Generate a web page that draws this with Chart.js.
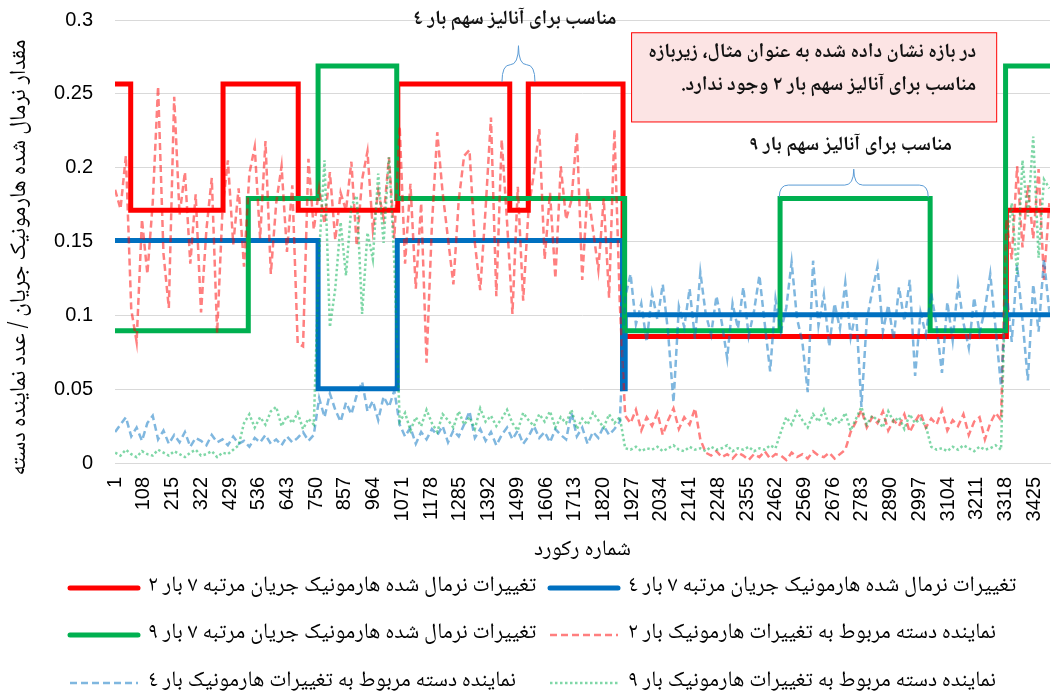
<!DOCTYPE html>
<html lang="fa">
<head>
<meta charset="utf-8">
<title>تغییرات هارمونیک</title>
<script src="https://cdn.jsdelivr.net/npm/chart.js@4.4.1/dist/chart.umd.min.js"></script>
<style>
    html, body { margin: 0; padding: 0; background: #fff; }
    #wrap { width: 1051px; height: 694px; position: relative; }
</style>
</head>
<body>
<div id="wrap"><canvas id="harmonicChart"></canvas></div>
<script>
// tick labels of the record axis
var xTickRecords = [1, 108, 215, 322, 429, 536, 643, 750, 857, 964, 1071, 1178, 1285, 1392, 1499, 1606, 1713,
    1820, 1927, 2034, 2141, 2248, 2355, 2462, 2569, 2676, 2783, 2890, 2997, 3104, 3211, 3318, 3425];
var lastRecord = 3483;

// step series: record where a level starts, and the level
var redStepRecords = [1, 59, 403, 683, 1054, 1471, 1540, 1893, 3321, 3483];
var redStepValues = [0.2567, 0.1711, 0.2567, 0.1711, 0.2567, 0.1711, 0.2567, 0.0856, 0.1711, 0.1711];
var blueStepRecords = [1, 757, 1052, 1891, 1901, 3483];
var blueStepValues = [0.1506, 0.0502, 0.1506, 0.0502, 0.1004, 0.1004];
var greenStepRecords = [1, 497, 757, 1050, 1899, 2478, 3037, 3318, 3483];
var greenStepValues = [0.0896, 0.1792, 0.2688, 0.1792, 0.0896, 0.1792, 0.0896, 0.2688, 0.2688];

// cluster representatives, read every 20 records
var sampleEvery = 20;
var redCluster = [
    0.185, 0.172, 0.208, 0.104, 0.082, 0.165, 0.128, 0.176, 0.255, 0.142,
    0.105, 0.248, 0.168, 0.197, 0.135, 0.182, 0.102, 0.158, 0.193, 0.088,
    0.172, 0.205, 0.148, 0.186, 0.133, 0.196, 0.214, 0.152, 0.218, 0.128,
    0.176, 0.201, 0.143, 0.188, 0.081, 0.079, 0.206, 0.158, 0.186, 0.162,
    0.197, 0.151, 0.183, 0.171, 0.204, 0.147, 0.192, 0.211, 0.158, 0.184,
    0.166, 0.207, 0.152, 0.228, 0.135, 0.189, 0.118, 0.176, 0.068, 0.161,
    0.224, 0.183, 0.152, 0.121, 0.178, 0.208, 0.212, 0.149, 0.117, 0.172,
    0.234, 0.113, 0.219, 0.163, 0.101, 0.187, 0.110, 0.172, 0.196, 0.226,
    0.138, 0.183, 0.125, 0.201, 0.165, 0.178, 0.224, 0.124, 0.186, 0.158,
    0.131, 0.179, 0.112, 0.226, 0.108, 0.032, 0.027, 0.036, 0.022, 0.031,
    0.025, 0.034, 0.019, 0.029, 0.037, 0.023, 0.031, 0.026, 0.037, 0.016,
    0.007, 0.005, 0.008, 0.004, 0.006, 0.003, 0.007, 0.005, 0.002, 0.006,
    0.004, 0.008, 0.003, 0.006, 0.005, 0.002, 0.007, 0.004, 0.006, 0.003,
    0.008, 0.005, 0.004, 0.007, 0.003, 0.006, 0.009, 0.021, 0.028, 0.036,
    0.024, 0.031, 0.027, 0.035, 0.022, 0.029, 0.025, 0.033, 0.021, 0.028,
    0.034, 0.024, 0.030, 0.026, 0.036, 0.022, 0.029, 0.025, 0.033, 0.019,
    0.028, 0.031, 0.016, 0.027, 0.034, 0.029, 0.165, 0.138, 0.201, 0.146,
    0.188, 0.152, 0.199, 0.124, 0.176
];
var blueCluster = [
    0.021, 0.026, 0.031, 0.018, 0.024, 0.015, 0.027, 0.032, 0.016, 0.022,
    0.013, 0.019, 0.014, 0.021, 0.011, 0.017, 0.015, 0.012, 0.019, 0.014,
    0.016, 0.012, 0.018, 0.013, 0.015, 0.011, 0.017, 0.014, 0.019, 0.013,
    0.016, 0.012, 0.018, 0.014, 0.017, 0.021, 0.015, 0.019, 0.044, 0.031,
    0.047, 0.036, 0.028, 0.041, 0.033, 0.046, 0.055, 0.035, 0.042, 0.029,
    0.045, 0.038, 0.049, 0.026, 0.018, 0.024, 0.013, 0.021, 0.016, 0.023,
    0.019, 0.025, 0.014, 0.022, 0.018, 0.026, 0.035, 0.017, 0.023, 0.015,
    0.021, 0.012, 0.019, 0.024, 0.016, 0.022, 0.013, 0.018, 0.025, 0.017,
    0.021, 0.014, 0.023, 0.019, 0.016, 0.034, 0.018, 0.024, 0.013, 0.021,
    0.017, 0.025, 0.019, 0.023, 0.028, 0.112, 0.128, 0.094, 0.108, 0.082,
    0.115, 0.097, 0.121, 0.088, 0.041, 0.106, 0.092, 0.118, 0.084, 0.129,
    0.101, 0.087, 0.113, 0.095, 0.071, 0.108, 0.091, 0.119, 0.086, 0.103,
    0.127, 0.094, 0.062, 0.111, 0.089, 0.105, 0.136, 0.098, 0.082, 0.048,
    0.137, 0.093, 0.114, 0.079, 0.108, 0.091, 0.122, 0.085, 0.103, 0.038,
    0.097, 0.116, 0.133, 0.089, 0.107, 0.084, 0.119, 0.096, 0.124, 0.059,
    0.102, 0.087, 0.115, 0.093, 0.061, 0.109, 0.083, 0.121, 0.095, 0.078,
    0.112, 0.088, 0.104, 0.128, 0.091, 0.052, 0.118, 0.082, 0.134, 0.097,
    0.056, 0.121, 0.089, 0.138, 0.102
];
var greenCluster = [
    0.007, 0.005, 0.009, 0.006, 0.004, 0.008, 0.006, 0.005, 0.009, 0.007,
    0.005, 0.008, 0.006, 0.004, 0.007, 0.009, 0.005, 0.006, 0.008, 0.004,
    0.007, 0.006, 0.009, 0.012, 0.027, 0.033, 0.024, 0.031, 0.026, 0.035,
    0.038, 0.025, 0.032, 0.027, 0.034, 0.023, 0.030, 0.026, 0.142, 0.205,
    0.092, 0.118, 0.163, 0.127, 0.174, 0.181, 0.101, 0.156, 0.138, 0.196,
    0.149, 0.207, 0.136, 0.028, 0.034, 0.022, 0.031, 0.025, 0.036, 0.027,
    0.021, 0.033, 0.029, 0.024, 0.035, 0.026, 0.031, 0.023, 0.037, 0.028,
    0.032, 0.025, 0.030, 0.036, 0.027, 0.022, 0.034, 0.029, 0.025, 0.033,
    0.028, 0.035, 0.024, 0.031, 0.027, 0.036, 0.023, 0.030, 0.026, 0.034,
    0.029, 0.024, 0.033, 0.027, 0.031, 0.010, 0.009, 0.011, 0.008, 0.010,
    0.009, 0.011, 0.008, 0.010, 0.012, 0.009, 0.008, 0.011, 0.009, 0.010,
    0.008, 0.011, 0.009, 0.010, 0.012, 0.008, 0.010, 0.009, 0.011, 0.008,
    0.010, 0.009, 0.012, 0.010, 0.021, 0.031, 0.026, 0.035, 0.029, 0.024,
    0.033, 0.028, 0.036, 0.025, 0.031, 0.027, 0.034, 0.022, 0.030, 0.038,
    0.026, 0.032, 0.029, 0.024, 0.035, 0.028, 0.031, 0.023, 0.033, 0.027,
    0.030, 0.025, 0.011, 0.009, 0.010, 0.008, 0.011, 0.009, 0.012, 0.010,
    0.008, 0.011, 0.009, 0.010, 0.012, 0.009, 0.148, 0.176, 0.128, 0.205,
    0.167, 0.221, 0.139, 0.192, 0.186
];

var seriesLabels = [
    'تغییرات نرمال شده هارمونیک جریان مرتبه ۷ بار ۲',
    'تغییرات نرمال شده هارمونیک جریان مرتبه ۷ بار ٤',
    'تغییرات نرمال شده هارمونیک جریان مرتبه ۷ بار ۹',
    'نماینده دسته مربوط به تغییرات هارمونیک بار ۲',
    'نماینده دسته مربوط به تغییرات هارمونیک بار ٤',
    'نماینده دسته مربوط به تغییرات هارمونیک بار ۹'
];
var yAxisTitle = 'مقدار نرمال شده هارمونیک جریان / عدد نماینده دسته';

var latinFont = "'Liberation Sans', Arial, sans-serif";
var persianFont = "'Noto Naskh Arabic', 'Noto Sans Arabic', 'DejaVu Sans', sans-serif";

function pairUp(xs, ys) {
    return ys.map(function (y, i) { return { x: xs[i], y: y }; });
}
function clusterPoints(ys) {
    return ys.map(function (y, i) { return { x: 1 + i * sampleEvery, y: y }; });
}

// curly brace opening downwards
function drawBrace(ctx, x1, x2, yEnd, yMid, yTip) {
    var xc = (x1 + x2) / 2;
    var r = Math.min(9, (x2 - x1) / 4);
    ctx.beginPath();
    ctx.moveTo(x1, yEnd);
    ctx.quadraticCurveTo(x1, yMid, x1 + r, yMid);
    ctx.lineTo(xc - r, yMid);
    ctx.quadraticCurveTo(xc, yMid, xc, yTip);
    ctx.quadraticCurveTo(xc, yMid, xc + r, yMid);
    ctx.lineTo(x2 - r, yMid);
    ctx.quadraticCurveTo(x2, yMid, x2, yEnd);
    ctx.stroke();
}

var notesPlugin = {
    id: 'notes',
    afterDraw: function (chart) {
        var ctx = chart.ctx, xs = chart.scales.x, ys = chart.scales.y;
        ctx.save();
        ctx.direction = 'rtl';
        ctx.strokeStyle = '#5B9BD5';
        ctx.lineWidth = 1;
        drawBrace(ctx, xs.getPixelForValue(1442), xs.getPixelForValue(1565),
            ys.getPixelForValue(0.258), ys.getPixelForValue(0.2697), ys.getPixelForValue(0.2826));
        drawBrace(ctx, xs.getPixelForValue(2475), xs.getPixelForValue(3030),
            ys.getPixelForValue(0.180), ys.getPixelForValue(0.1882), ys.getPixelForValue(0.199));

        ctx.fillStyle = '#111';
        ctx.font = 'bold 20px ' + persianFont;
        ctx.textAlign = 'center';
        ctx.textBaseline = 'middle';
        ctx.fillText('مناسب برای آنالیز سهم بار ٤', xs.getPixelForValue(1490), ys.getPixelForValue(0.299));
        ctx.fillText('مناسب برای آنالیز سهم بار ۹', xs.getPixelForValue(2740), ys.getPixelForValue(0.214));

        // pink note box
        var bx1 = xs.getPixelForValue(1923), bx2 = xs.getPixelForValue(3283);
        var by1 = ys.getPixelForValue(0.2917), by2 = ys.getPixelForValue(0.2313);
        ctx.fillStyle = '#FCE4E4';
        ctx.fillRect(bx1, by1, bx2 - bx1, by2 - by1);
        ctx.strokeStyle = '#FF0000';
        ctx.strokeRect(bx1 + 0.5, by1 + 0.5, bx2 - bx1, by2 - by1);
        ctx.fillStyle = '#111';
        ctx.textAlign = 'right';
        ctx.fillText('در بازه نشان داده شده به عنوان مثال، زیربازه', bx2 - 20, by1 + 22);
        ctx.fillText('مناسب برای آنالیز سهم بار ۲ وجود ندارد.', bx2 - 20, by1 + 55);

        // vertical axis title, a little below the plot middle as in the original
        ctx.save();
        ctx.translate(22, (chart.chartArea.top + chart.chartArea.bottom) / 2 + 16);
        ctx.rotate(-Math.PI / 2);
        ctx.font = '23px ' + persianFont;
        ctx.fillStyle = '#000';
        ctx.textAlign = 'center';
        ctx.fillText(yAxisTitle, 0, 0);
        ctx.restore();
        ctx.restore();
    }
};

var legendPlugin = {
    id: 'gridLegend',
    afterDraw: function (chart) {
        var ctx = chart.ctx;
        var cols = [70, 550], rows = [588, 635, 683];
        ctx.save();
        chart.data.datasets.forEach(function (ds, i) {
            var x = cols[i % 2], y = rows[Math.floor(i / 2)];
            ctx.beginPath();
            ctx.strokeStyle = ds.borderColor;
            ctx.lineWidth = ds.borderWidth;
            ctx.lineCap = ds.borderCapStyle || 'butt';
            ctx.setLineDash(ds.borderDash || []);
            ctx.moveTo(x, y);
            ctx.lineTo(x + 68, y);
            ctx.stroke();
            ctx.setLineDash([]);
            ctx.fillStyle = '#000';
            ctx.font = '22px ' + persianFont;
            ctx.direction = 'rtl';
            ctx.textAlign = 'left';
            ctx.textBaseline = 'middle';
            ctx.fillText(ds.label, x + 78, y);
        });
        ctx.restore();
    }
};

var ctx = document.getElementById('harmonicChart').getContext('2d');
var harmonicChart = new Chart(ctx, {
    type: 'line',
    data: {
        datasets: [
            { label: seriesLabels[0], data: pairUp(redStepRecords, redStepValues), stepped: true,
              borderColor: '#FF0000', borderWidth: 5, borderCapStyle: 'round', order: 6 },
            { label: seriesLabels[1], data: pairUp(blueStepRecords, blueStepValues), stepped: true,
              borderColor: '#0070C0', borderWidth: 5, borderCapStyle: 'round', order: 5 },
            { label: seriesLabels[2], data: pairUp(greenStepRecords, greenStepValues), stepped: true,
              borderColor: '#00B050', borderWidth: 5, borderCapStyle: 'round', order: 4 },
            { label: seriesLabels[3], data: clusterPoints(redCluster),
              borderColor: 'rgba(255,0,0,0.5)', borderWidth: 2.5, borderDash: [7, 4], order: 3 },
            { label: seriesLabels[4], data: clusterPoints(blueCluster),
              borderColor: 'rgba(0,112,192,0.5)', borderWidth: 2.5, borderDash: [7, 4], order: 2 },
            { label: seriesLabels[5], data: clusterPoints(greenCluster),
              borderColor: 'rgba(0,176,80,0.5)', borderWidth: 2.5, borderDash: [2.5, 2.5], order: 1 }
        ]
    },
    options: {
        responsive: true,
        maintainAspectRatio: false,
        animation: false,
        devicePixelRatio: 1,
        layout: { padding: { top: 20, right: 1, bottom: 128, left: 0 } },
        elements: { point: { radius: 0 }, line: { tension: 0 } },
        plugins: { legend: { display: false }, tooltip: { enabled: false } },
        scales: {
            x: {
                type: 'linear',
                min: 0.5,
                max: lastRecord + 0.5,
                afterBuildTicks: function (scale) {
                    scale.ticks = xTickRecords.map(function (v) { return { value: v }; });
                },
                afterFit: function (scale) {
                    scale.height = 103;
                    scale.paddingLeft = 0;
                    scale.paddingRight = 0;
                },
                ticks: {
                    autoSkip: false, minRotation: 90, maxRotation: 90, padding: 14,
                    color: '#000', font: { family: latinFont, size: 20 },
                    callback: function (v) { return String(v); }
                },
                grid: { display: false, drawTicks: false },
                border: { display: true, color: '#D9D9D9', width: 1 },
                title: { display: true, text: 'شماره رکورد', color: '#000',
                         font: { family: persianFont, size: 22 }, padding: { top: 2, bottom: 1 } }
            },
            y: {
                min: 0,
                max: 0.3,
                afterFit: function (scale) {
                    scale.width = 115;
                    scale.paddingTop = 0;
                    scale.paddingBottom = 0;
                },
                ticks: {
                    stepSize: 0.05, padding: 22, color: '#000', font: { family: latinFont, size: 20 },
                    callback: function (v) { return String(Math.round(v * 100) / 100); }
                },
                grid: { color: '#D9D9D9', drawTicks: false },
                border: { display: false },
                title: { display: false }
            }
        }
    },
    plugins: [notesPlugin, legendPlugin]
});
</script>
</body>
</html>
